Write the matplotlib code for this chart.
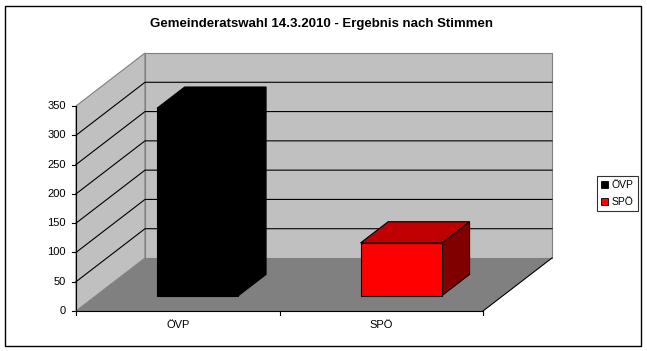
import matplotlib.pyplot as plt
from matplotlib.patches import Polygon, Rectangle, Patch

plt.rcParams['font.family'] = ['Liberation Sans', 'DejaVu Sans']

# data
categories = ['ÖVP', 'SPÖ']
votes = [320, 90]
yticks = [0, 50, 100, 150, 200, 250, 300, 350]
title = 'Gemeinderatswahl 14.3.2010 - Ergebnis nach Stimmen'

front_cols = ['#000000', '#FF0000']
top_cols = ['#000000', '#C00000']
side_cols = ['#000000', '#800000']

W, H = 647, 351
fig = plt.figure(figsize=(W / 100, H / 100), dpi=100)
ax = fig.add_axes([0, 0, 1, 1])

# pixel layout of the front plane
x0px, y0px = 76, 311
cat_px = 203.5
val_px = 205 / 350
ax.set_xlim(-x0px / cat_px, (W - x0px) / cat_px)
ax.set_ylim((y0px - H) / val_px, y0px / val_px)
ax.axis('off')

# depth offset (oblique projection) in data units
DX = 69 / cat_px
DY = 53 / val_px


def P(c, v, d):
    return (c + d * DX, v + d * DY)


ncat = len(categories)
vmax = yticks[-1]

# floor
ax.add_patch(Polygon([P(0, 0, 0), P(ncat, 0, 0), P(ncat, 0, 1), P(0, 0, 1)],
                     closed=True, fc='#808080', ec='none', zorder=1))
ax.plot(*zip(P(ncat, 0, 0), P(ncat, 0, 1)), color='black', lw=0.8, zorder=2)
# left wall
ax.add_patch(Polygon([P(0, 0, 0), P(0, 0, 1), P(0, vmax, 1), P(0, vmax, 0)],
                     closed=True, fc='#C0C0C0', ec='#808080', lw=0.8, zorder=1))
# back wall
ax.add_patch(Polygon([P(0, 0, 1), P(ncat, 0, 1), P(ncat, vmax, 1), P(0, vmax, 1)],
                     closed=True, fc='#C0C0C0', ec='#808080', lw=0.8, zorder=1))

# gridlines
for t in yticks[1:-1]:
    ax.plot(*zip(P(0, t, 0), P(0, t, 1), P(ncat, t, 1)), color='black', lw=0.8, zorder=2)

# bars
d0, d1 = 0.29, 0.69
for i, v in enumerate(votes):
    a, b = i + 0.3, i + 0.7
    side = [P(b, 0, d0), P(b, 0, d1), P(b, v, d1), P(b, v, d0)]
    top = [P(a, v, d0), P(b, v, d0), P(b, v, d1), P(a, v, d1)]
    front = [P(a, 0, d0), P(b, 0, d0), P(b, v, d0), P(a, v, d0)]
    ax.add_patch(Polygon(side, closed=True, fc=side_cols[i], ec='black', lw=0.8, zorder=3))
    ax.add_patch(Polygon(top, closed=True, fc=top_cols[i], ec='black', lw=0.8, zorder=3))
    ax.add_patch(Polygon(front, closed=True, fc=front_cols[i], ec='black', lw=0.8, zorder=4))

# axes lines and ticks
tick_c = 4 / cat_px
tick_v = 4 / val_px
ax.plot([0, 0], [0, vmax], color='black', lw=0.8, zorder=5)
ax.plot([0, ncat], [0, 0], color='black', lw=0.8, zorder=5)
for t in yticks:
    ax.plot([-tick_c, 0], [t, t], color='black', lw=0.8, zorder=5)
    ax.text(-2.5 * tick_c, t, str(t), ha='right', va='center', fontsize=8)
for i in range(ncat + 1):
    ax.plot([i, i], [0, -tick_v], color='black', lw=0.8, zorder=5)
for i, c in enumerate(categories):
    ax.text(i + 0.5, -14 / val_px, c, ha='center', va='center', fontsize=8)

# title
fig.text(322 / W, 1 - 24 / H, title, ha='center', va='center',
         fontsize=9.5, fontweight='bold')

# legend
handles = [Patch(fc=front_cols[i], ec='black', lw=0.6, label=c) for i, c in enumerate(categories)]
leg = fig.legend(handles=handles, loc='center left', bbox_to_anchor=(597 / W, 1 - 193.5 / H),
                 fontsize=7.5, frameon=True, fancybox=False, handlelength=0.7,
                 handleheight=0.7, handletextpad=0.3, borderpad=0.4, labelspacing=0.65,
                 borderaxespad=0)
leg.get_frame().set_edgecolor('black')
leg.get_frame().set_linewidth(0.8)

# outer border
fig.patches.append(Rectangle((4.5 / W, 5.5 / H), 636.5 / W, 340 / H, transform=fig.transFigure,
                             fill=False, ec='black', lw=1))

fig.savefig('out.png', dpi=100)
